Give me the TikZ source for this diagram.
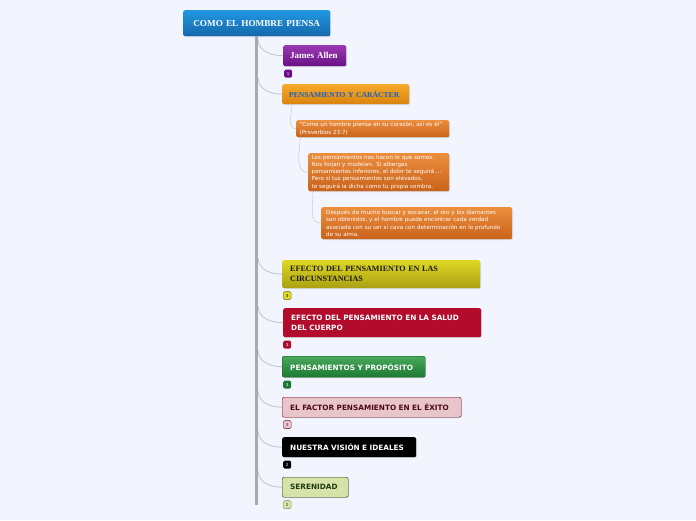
\documentclass[tikz,border=0pt]{standalone}
\usepackage{fontspec}
\setmainfont{Liberation Serif}
\setsansfont{DejaVu Sans}
\usetikzlibrary{shadows,calc}

\definecolor{fondo}{HTML}{F2F5FD}
\definecolor{azulA}{HTML}{2198E2}
\definecolor{azulB}{HTML}{1567AA}
\definecolor{moradoA}{HTML}{9A3AB2}
\definecolor{moradoB}{HTML}{6A1087}
\definecolor{naranjaA}{HTML}{F7AB2A}
\definecolor{naranjaB}{HTML}{D9820F}
\definecolor{notaA}{HTML}{EC8E3E}
\definecolor{notaB}{HTML}{C9631A}
\definecolor{amarilloA}{HTML}{DDD824}
\definecolor{amarilloB}{HTML}{ABA012}
\definecolor{rojo}{HTML}{B30B2C}
\definecolor{verdeA}{HTML}{48A85A}
\definecolor{verdeB}{HTML}{1D7A33}
\definecolor{rosa}{HTML}{E7C5CA}
\definecolor{vino}{HTML}{6E0B24}
\definecolor{oliva}{HTML}{D5E2A8}
\definecolor{musgo}{HTML}{1F3A10}
\definecolor{tronco}{HTML}{A9A9AE}
\definecolor{rama}{HTML}{C6C8D0}
\definecolor{textoazul}{HTML}{1A5FC4}

\tikzset{
  caja/.style={anchor=north west, rounded corners=2pt, align=left, inner xsep=7pt, inner ysep=0pt,
    drop shadow={shadow xshift=0.8pt, shadow yshift=-0.8pt, opacity=0.25}},
  titulo/.style={font=\bfseries\fontsize{#1}{#1}\selectfont},
  rotulo/.style={font=\sffamily\bfseries\fontsize{7.3}{9.5}\selectfont},
  nota/.style={caja, inner xsep=3.5pt, top color=notaA, bottom color=notaB, text=white,
    font=\sffamily\fontsize{5.6}{7.2}\selectfont},
  cuenta/.style={anchor=north west, rounded corners=1.5pt, minimum width=8pt, minimum height=8pt,
    inner sep=0pt, font=\sffamily\fontsize{4}{4}\selectfont},
  rama/.style={draw=rama, line width=0.9pt},
  subrama/.style={draw=rama!80, line width=0.7pt}
}

\begin{document}
\begin{tikzpicture}[x=1pt,y=-1pt]
\useasboundingbox (0,0) rectangle (696,520);
\fill[fondo] (0,0) rectangle (696,520);

\node[caja, top color=azulA, bottom color=azulB, text=white, titulo=9.2, align=center,
  text width=133pt, minimum height=26pt] (raiz) at (183,10) {COMO EL HOMBRE PIENSA};
\node[caja, top color=moradoA, bottom color=moradoB, text=white, titulo=9,
  text width=49pt, minimum height=21pt] (allen) at (283,45) {James Allen};
\node[caja, top color=naranjaA, bottom color=naranjaB, text=textoazul, titulo=7.6,
  text width=113pt, minimum height=20pt] (caracter) at (282,84) {\mbox{PENSAMIENTO Y CARÁCTER}};
\node[nota, text width=146pt, minimum height=17pt] (cita) at (296,120)
  {“Como un hombre piensa en su corazón, así es él”\\(Proverbios 23:7)};
\node[nota, text width=134pt, minimum height=38pt] (forjan) at (308,153)
  {Los pensamientos nos hacen lo que somos.\\Nos forjan y modelan. Si albergas\\pensamientos inferiores, el dolor te seguirá ...\\Pero si tus pensamientos son elevados,\\te seguirá la dicha como tu propia sombra.};
\node[nota, inner xsep=5pt, text width=181pt, minimum height=32pt] (alma) at (321,207)
  {Después de mucho buscar y excavar, el oro y los diamantes\\son obtenidos, y el hombre puede encontrar cada verdad\\asociada con su ser si cava con determinación en lo profundo\\de su alma.};
\node[caja, top color=amarilloA, bottom color=amarilloB, text=black!90, inner xsep=8pt,
  font=\bfseries\fontsize{8.1}{10}\selectfont, text width=182pt, minimum height=28pt] (circ) at (282,260)
  {EFECTO DEL PENSAMIENTO EN LAS\\CIRCUNSTANCIAS};
\node[caja, fill=rojo, text=white, rotulo, inner xsep=8pt,
  text width=182pt, minimum height=29pt] (salud) at (283,308)
  {EFECTO DEL PENSAMIENTO EN LA SALUD\\DEL CUERPO};
\node[caja, top color=verdeA, bottom color=verdeB, draw=verdeB!70!black, text=white, rotulo, inner xsep=8pt,
  text width=127pt, minimum height=21pt] (proposito) at (282,356) {PENSAMIENTOS Y PROPÓSITO};
\node[caja, fill=rosa, draw=vino, text=vino!70!black, rotulo, inner xsep=8pt,
  text width=163pt, minimum height=20pt] (exito) at (282,397) {EL FACTOR PENSAMIENTO EN EL ÉXITO};
\node[caja, fill=black, text=white, rotulo, inner xsep=8pt,
  text width=118pt, minimum height=20pt] (vision) at (282,437) {NUESTRA VISIÓN E IDEALES};
\node[caja, fill=oliva, draw=musgo, text=musgo, rotulo, inner xsep=8pt,
  text width=50pt, minimum height=20pt] (seren) at (282,477) {SERENIDAD};

\node[cuenta, fill=moradoB, text=white] (nallen) at ($(allen.south west)+(1,3)$) {1};
\node[cuenta, fill=amarilloA, draw=amarilloB!60!black, text=black] (ncirc) at ($(circ.south west)+(1,3)$) {3};
\node[cuenta, fill=rojo, text=white] (nsalud) at ($(salud.south west)+(0,3)$) {3};
\node[cuenta, fill=verdeB, text=white] (nproposito) at ($(proposito.south west)+(1,3)$) {3};
\node[cuenta, fill=rosa, draw=vino, text=vino] (nexito) at ($(exito.south west)+(1,3)$) {3};
\node[cuenta, fill=black, text=white] (nvision) at ($(vision.south west)+(1,3)$) {2};
\node[cuenta, fill=oliva, draw=musgo!50!oliva, text=musgo] (nseren) at ($(seren.south west)+(1,3)$) {2};

\coordinate (fin) at (258,505);
\foreach \n in {allen,caracter,circ,salud,proposito,exito,vision,seren}
  \draw[rama] ($(raiz.south |- \n.west)+(1.5,-16)$) to[out=-90,in=180] (\n.west);
\draw[tronco, line width=3.5pt] (raiz.south) -- (raiz.south |- fin);

\draw[subrama] ($(caracter.south west)+(10,0)$) to[out=-90,in=180] (cita.west);
\draw[subrama] ($(cita.south west)+(4,0)$) to[out=-90,in=180] (forjan.west);
\draw[subrama] ($(forjan.south west)+(5,0)$) to[out=-90,in=180] (alma.west);
\end{tikzpicture}
\end{document}
